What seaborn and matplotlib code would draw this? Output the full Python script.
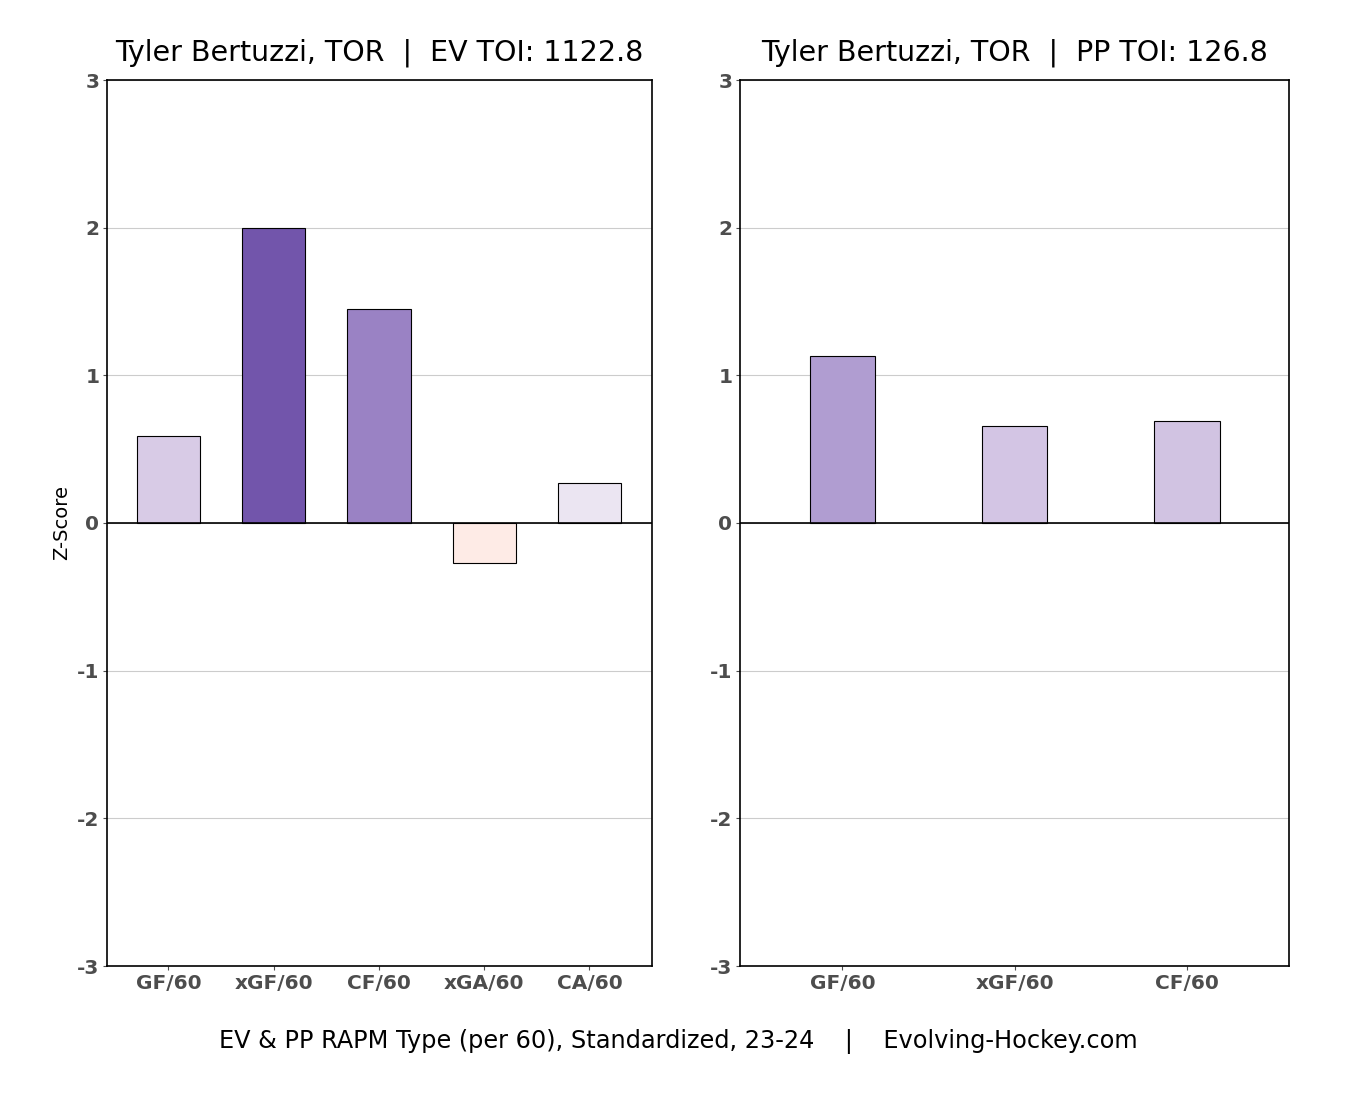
import matplotlib
matplotlib.use("Agg")
import matplotlib.pyplot as plt
import seaborn as sns
import pandas as pd

# EV RAPM z-scores
ev_metrics = ["GF/60", "xGF/60", "CF/60", "xGA/60", "CA/60"]
ev_values = [0.59, 2.00, 1.45, -0.27, 0.27]
ev_colors = ["#d8cbe6", "#7255ab", "#9a82c4", "#feebe6", "#ebe5f2"]

# PP RAPM z-scores
pp_metrics = ["GF/60", "xGF/60", "CF/60"]
pp_values = [1.13, 0.66, 0.69]
pp_colors = ["#b09dd1", "#d3c5e4", "#d1c3e2"]

ev_title = "Tyler Bertuzzi, TOR  |  EV TOI: 1122.8"
pp_title = "Tyler Bertuzzi, TOR  |  PP TOI: 126.8"
footer = "EV & PP RAPM Type (per 60), Standardized, 23-24    |    Evolving-Hockey.com"

sns.set_style("white")
plt.rcParams["font.family"] = ["DejaVu Sans"]
plt.rcParams["axes.unicode_minus"] = False
plt.rcParams["text.color"] = "black"
plt.rcParams["axes.labelcolor"] = "black"

fig = plt.figure(figsize=(13.46, 10.95), dpi=100)
ax1 = fig.add_axes([107 / 1346, 1 - 966 / 1095, 545 / 1346, 886 / 1095])
ax2 = fig.add_axes([740 / 1346, 1 - 966 / 1095, 549 / 1346, 886 / 1095])

ev_df = pd.DataFrame({"metric": ev_metrics, "value": ev_values})
pp_df = pd.DataFrame({"metric": pp_metrics, "value": pp_values})

sns.barplot(data=ev_df, x="metric", y="value", hue="metric", palette=ev_colors, saturation=1,
            width=0.6, edgecolor="black", linewidth=0.8, legend=False, ax=ax1)
sns.barplot(data=pp_df, x="metric", y="value", hue="metric", palette=pp_colors, saturation=1,
            width=0.38, edgecolor="black", linewidth=0.8, legend=False, ax=ax2)

for ax, title, xl in [(ax1, ev_title, (-0.584, 4.594)), (ax2, pp_title, (-0.595, 2.592))]:
    ax.set_ylim(-3, 3)
    ax.set_xlim(*xl)
    ax.set_yticks([-3, -2, -1, 0, 1, 2, 3])
    ax.yaxis.grid(True, color="#cccccc", linewidth=0.8)
    ax.set_axisbelow(True)
    ax.axhline(0, color="black", linewidth=1.2, zorder=3)
    for s in ax.spines.values():
        s.set_visible(True)
        s.set_color("black")
        s.set_linewidth(1.2)
    ax.tick_params(axis="both", which="major", length=3, width=0.8, color="#4d4d4d",
                   labelcolor="#4d4d4d", labelsize=14.5, bottom=True, left=True, pad=2.5)
    for lab in ax.get_xticklabels() + ax.get_yticklabels():
        lab.set_fontweight("bold")
    ax.set_title(title, fontsize=20.5, pad=14, color="black")
    ax.set_xlabel("")

ax1.set_ylabel("Z-Score", fontsize=14)
ax2.set_ylabel("")

fig.text(0.504, 1 - 1041 / 1095, footer, ha="center", va="center", fontsize=17.3)

fig.savefig("out.png", dpi=100)
